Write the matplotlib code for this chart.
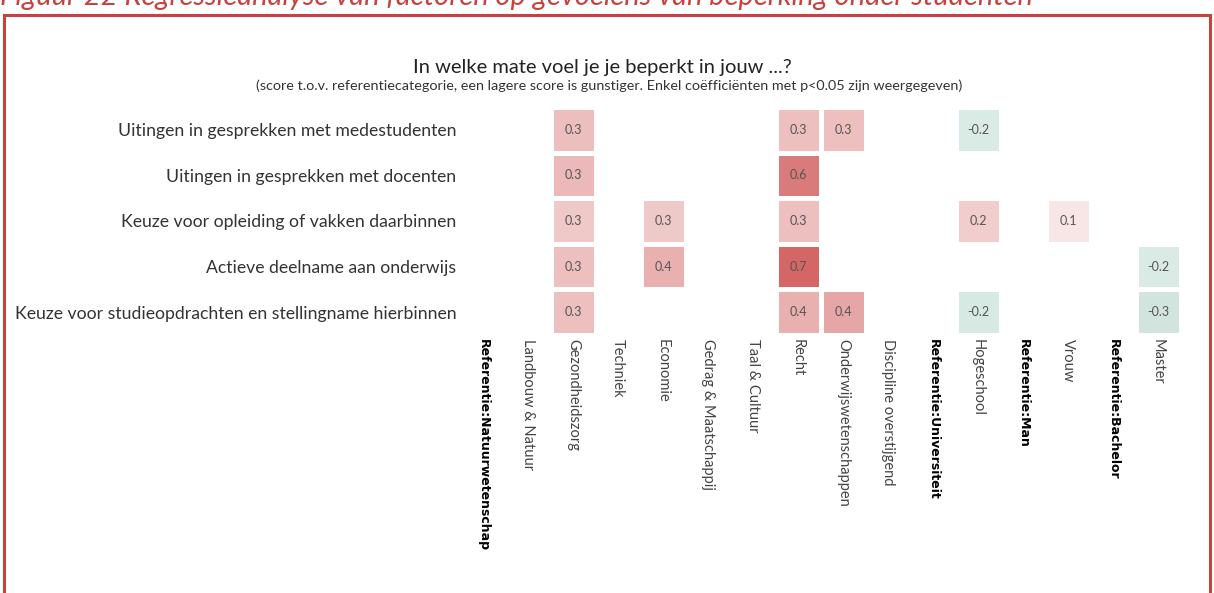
import numpy as np
import matplotlib
matplotlib.use("Agg")
import matplotlib.pyplot as plt
from matplotlib.colors import LinearSegmentedColormap
from matplotlib.patches import Rectangle

plt.rcParams['font.family'] = ['Lato', 'DejaVu Sans']

rows = [
    "Uitingen in gesprekken met medestudenten",
    "Uitingen in gesprekken met docenten",
    "Keuze voor opleiding of vakken daarbinnen",
    "Actieve deelname aan onderwijs",
    "Keuze voor studieopdrachten en stellingname hierbinnen",
]
cols = [
    "Referentie:Natuurwetenschap", "Landbouw & Natuur", "Gezondheidszorg",
    "Techniek", "Economie", "Gedrag & Maatschappij", "Taal & Cultuur",
    "Recht", "Onderwijswetenschappen", "Discipline overstijgend",
    "Referentie:Universiteit", "Hogeschool", "Referentie:Man", "Vrouw",
    "Referentie:Bachelor", "Master",
]
n = None
# estimated coefficients (labels shown rounded to one decimal)
values = [
    [n, n, 0.31, n, n, n, n, 0.30, 0.30, n, n, -0.22, n, n, n, n],
    [n, n, 0.33, n, n, n, n, 0.62, n, n, n, n, n, n, n, n],
    [n, n, 0.26, n, 0.26, n, n, 0.30, n, n, n, 0.24, n, 0.12, n, n],
    [n, n, 0.30, n, 0.37, n, n, 0.72, n, n, n, n, n, n, n, -0.22],
    [n, n, 0.30, n, n, n, n, 0.37, 0.42, n, n, -0.24, n, n, n, -0.28],
]

data = np.array([[np.nan if v is None else v for v in r] for r in values])
masked = np.ma.masked_invalid(data)

cmap = LinearSegmentedColormap.from_list("rg", ["#58a28a", "#ffffff", "#c42c2c"])

W, H = 1214, 593
fig = plt.figure(figsize=(W / 100, H / 100), dpi=100)

# red frame + caption (cut off at the top, as in the source page)
frame = Rectangle((4 / W, -0.05), 1206 / W, 1 - 15 / H + 0.05, transform=fig.transFigure,
                  fill=False, edgecolor="#c8413f", linewidth=2.2)
fig.patches.append(frame)
fig.text(0.0, 1 - 5 / H, "Figuur 22 Regressieanalyse van factoren op gevoelens van beperking onder studenten",
         color="#c8413f", style="italic", fontsize=21, ha="left", va="baseline")

ax = fig.add_axes([460.5 / W, 1 - 335 / H, 720 / W, 228 / H])
ax.pcolormesh(masked, cmap=cmap, vmin=-1, vmax=1, edgecolors="white", linewidth=2.5)
ax.set_xlim(0, len(cols))
ax.set_ylim(len(rows), 0)
for i in range(len(rows)):
    for j in range(len(cols)):
        if not np.isnan(data[i, j]):
            ax.text(j + 0.5, i + 0.5, f"{data[i, j]:.1f}", ha="center", va="center",
                    fontsize=9, color="#555555")

ax.set_yticks(np.arange(len(rows)) + 0.5)
ax.set_yticklabels(rows, fontsize=12.7, color="#333333")
ax.set_xticks(np.arange(len(cols)) + 0.5)
ax.set_xticklabels(cols, rotation=270, fontsize=10.5, color="#444444")
for lbl in ax.get_xticklabels():
    if lbl.get_text().startswith("Referentie"):
        lbl.set_fontweight("bold")
        lbl.set_color("black")
        lbl.set_family("DejaVu Sans")
        lbl.set_fontsize(9)
ax.tick_params(length=0, pad=3)
for s in ax.spines.values():
    s.set_visible(False)

fig.text(602 / W, 1 - 68 / H, "In welke mate voel je je beperkt in jouw ...?",
         ha="center", va="center", fontsize=14.5, color="#222222")
fig.text(609 / W, 1 - 86 / H,
         "(score t.o.v. referentiecategorie, een lagere score is gunstiger. Enkel coëfficiënten met p<0.05 zijn weergegeven)",
         ha="center", va="center", fontsize=10.4, color="#333333")

fig.savefig("out.png", dpi=100)
